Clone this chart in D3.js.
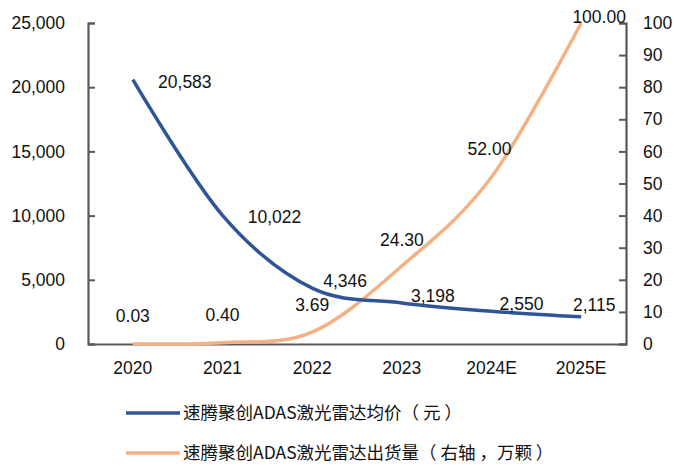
<!DOCTYPE html>
<html>
<head>
<meta charset="utf-8">
<script src="https://cdn.jsdelivr.net/npm/d3@7"></script>
<style>
  html, body { margin: 0; padding: 0; background: #fff; }
  svg text { font-family: "Liberation Sans", Arial, sans-serif; fill: #111; }
  .legend text { font-family: "Noto Sans CJK SC", sans-serif; }
</style>
</head>
<body>
<div id="root"></div>
<script>
// categories (x axis)
const years = ["2020", "2021", "2022", "2023", "2024E", "2025E"];
// average price, yuan (left axis)
const avgPrice = [20583, 10022, 4346, 3198, 2550, 2115];
// shipments, 10k units (right axis)
const shipments = [0.03, 0.40, 3.69, 24.30, 52.00, 100.00];
// axis ticks
const leftTicks = [0, 5000, 10000, 15000, 20000, 25000];
const rightTicks = [0, 10, 20, 30, 40, 50, 60, 70, 80, 90, 100];
const seriesNames = ["速腾聚创ADAS激光雷达均价（ 元 ）", "速腾聚创ADAS激光雷达出货量（ 右轴 ，万颗 ）"];

// label nudges (layout only)
const priceLabelShift = [[52, 2], [52, 2], [33, -7], [31, -7], [30, -7], [13, -12]];
const shipLabelShift = [[0, -28], [0, -28], [0, -27], [0, -26], [-2, -28], [18, -6]];

const width = 674, height = 468;
const plot = { left: 88, right: 626, top: 23, bottom: 344 };
const blue = "#2F5597", orange = "#F4B183", axisColor = "#595959";
const fontSize = 17.5;

const svg = d3.select("#root").append("svg")
  .attr("width", width)
  .attr("height", height);

const x = d3.scaleBand().domain(years).range([plot.left, plot.right]);
const xc = d => x(d) + x.bandwidth() / 2;
const yL = d3.scaleLinear().domain([0, 25000]).range([plot.bottom, plot.top]);
const yR = d3.scaleLinear().domain([0, 100]).range([plot.bottom, plot.top]);

// axes
const leftAxis = svg.append("g")
  .attr("transform", `translate(${plot.left},0)`)
  .call(d3.axisRight(yL).tickValues(leftTicks).tickSize(7).tickFormat(d3.format(",")));
leftAxis.selectAll("text").attr("x", -23).attr("text-anchor", "end");

const rightAxis = svg.append("g")
  .attr("transform", `translate(${plot.right},0)`)
  .call(d3.axisLeft(yR).tickValues(rightTicks).tickSize(7));
rightAxis.selectAll("text").attr("x", 17).attr("text-anchor", "start");

const bottomAxis = svg.append("g")
  .attr("transform", `translate(0,${plot.bottom})`)
  .call(d3.axisBottom(x).tickSize(0).tickPadding(18));

[leftAxis, rightAxis, bottomAxis].forEach(g => {
  g.select(".domain").attr("stroke", axisColor).attr("stroke-width", 2.2);
  g.selectAll(".tick line").attr("stroke", axisColor).attr("stroke-width", 2);
  g.selectAll("text").style("font-size", fontSize + "px").attr("fill", "#111");
});

// lines
const curve = d3.curveCatmullRom.alpha(0);
const priceLine = d3.line().x((d, i) => xc(years[i])).y(d => yL(d)).curve(curve);
const shipLine = d3.line().x((d, i) => xc(years[i])).y(d => yR(d)).curve(curve);

svg.append("path")
  .datum(shipments)
  .attr("d", shipLine)
  .attr("fill", "none")
  .attr("stroke", orange)
  .attr("stroke-width", 3.5);

svg.append("path")
  .datum(avgPrice)
  .attr("d", priceLine)
  .attr("fill", "none")
  .attr("stroke", blue)
  .attr("stroke-width", 3.5);

// data labels
svg.selectAll(".price-label")
  .data(avgPrice)
  .join("text")
  .attr("class", "price-label")
  .attr("x", (d, i) => xc(years[i]) + priceLabelShift[i][0])
  .attr("y", (d, i) => yL(d) + priceLabelShift[i][1])
  .attr("dy", "0.35em")
  .attr("text-anchor", "middle")
  .style("font-size", fontSize + "px")
  .text(d => d3.format(",")(d));

svg.selectAll(".ship-label")
  .data(shipments)
  .join("text")
  .attr("class", "ship-label")
  .attr("x", (d, i) => xc(years[i]) + shipLabelShift[i][0])
  .attr("y", (d, i) => yR(d) + shipLabelShift[i][1])
  .attr("dy", "0.35em")
  .attr("text-anchor", "middle")
  .style("font-size", fontSize + "px")
  .text(d => d.toFixed(2));

// legend
const legend = svg.append("g").attr("class", "legend");
const legendItems = legend.selectAll("g")
  .data(seriesNames)
  .join("g")
  .attr("transform", (d, i) => `translate(126,${413 + i * 40})`);

legendItems.append("line")
  .attr("x1", 0).attr("x2", 54)
  .attr("stroke", (d, i) => i === 0 ? blue : orange)
  .attr("stroke-width", 3.5);

legendItems.append("text")
  .attr("x", 57)
  .attr("dy", "0.35em")
  .style("font-size", "17.5px")
  .style("white-space", "pre")
  .text(d => d);
</script>
</body>
</html>
